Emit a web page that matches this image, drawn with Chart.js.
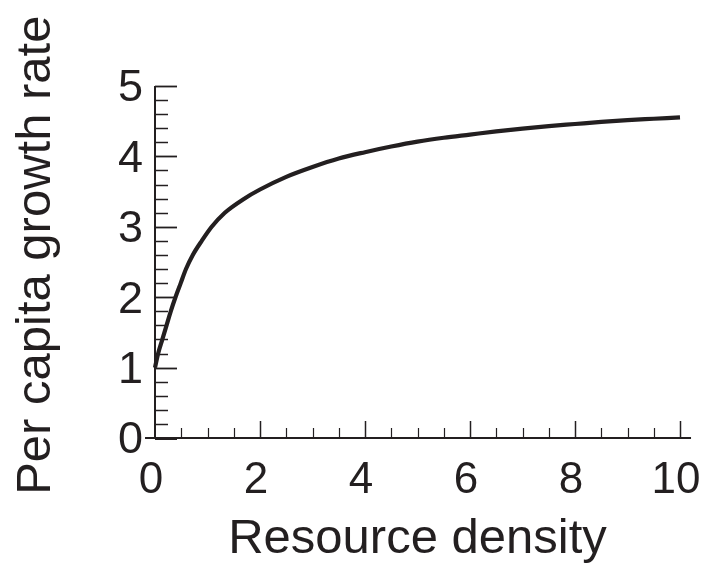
<!DOCTYPE html>
<html>
<head>
<meta charset="utf-8">
<script src="https://cdn.jsdelivr.net/npm/chart.js@4"></script>
<style>
  html, body { margin: 0; padding: 0; background: #fff; }
  #wrap { width: 702px; height: 574px; }
</style>
</head>
<body>
<div id="wrap"><canvas id="chart" width="702" height="574"></canvas></div>
<script>
// Values
const resourceDensity = [0, 0.06, 0.14, 0.22, 0.3, 0.39, 0.49, 0.59, 0.72, 0.89, 1.08, 1.33, 1.7, 2.0, 2.5, 3.0, 3.5, 4.0, 4.5, 5.0, 5.5, 6.0, 6.5, 7.0, 7.5, 8.0, 8.5, 9.0, 9.5, 10.0];
const growthRate = [1.0, 1.2, 1.4, 1.6, 1.8, 2.0, 2.2, 2.4, 2.6, 2.8, 3.0, 3.2, 3.4, 3.53, 3.71, 3.85, 3.97, 4.06, 4.14, 4.21, 4.265, 4.31, 4.355, 4.395, 4.43, 4.46, 4.49, 4.515, 4.535, 4.555];

const xTicks = [0, 2, 4, 6, 8, 10];
const yTicks = [0, 1, 2, 3, 4, 5];
const xMinorStep = 0.5;
const yMinorStep = 0.2;

const INK = '#231f20';
const FONT = "'Liberation Sans', Arial, Helvetica, sans-serif";

// Axis lines and inward tick marks, placed with the chart's own scales
const innerAxes = {
    id: 'innerAxes',
    beforeDatasetsDraw(chart) {
        const ctx = chart.ctx;
        const xs = chart.scales.x;
        const ys = chart.scales.y;
        const x0 = xs.getPixelForValue(0);
        const y0 = ys.getPixelForValue(0);

        ctx.save();
        ctx.strokeStyle = INK;
        ctx.lineCap = 'butt';

        // x axis line (runs a little past both ends)
        ctx.lineWidth = 2;
        ctx.beginPath();
        ctx.moveTo(xs.getPixelForValue(-0.19), y0);
        ctx.lineTo(xs.getPixelForValue(10.21), y0);
        ctx.stroke();

        // y axis line
        ctx.beginPath();
        ctx.moveTo(x0, y0);
        ctx.lineTo(x0, ys.getPixelForValue(5));
        ctx.stroke();

        // x ticks pointing up
        const nx = Math.round(10 / xMinorStep);
        for (let i = 1; i <= nx; i++) {
            const v = i * xMinorStep;
            const major = xTicks.includes(v);
            const px = Math.round(xs.getPixelForValue(v)) + 0.5;
            ctx.lineWidth = major ? 1.5 : 1.2;
            ctx.beginPath();
            ctx.moveTo(px, y0);
            ctx.lineTo(px, y0 - (major ? 17 : 10));
            ctx.stroke();
        }

        // y ticks pointing right
        const ny = Math.round(5 / yMinorStep);
        for (let i = 0; i <= ny; i++) {
            const v = +(i * yMinorStep).toFixed(2);
            const major = yTicks.includes(v);
            const py = Math.round(ys.getPixelForValue(v)) + 0.5;
            ctx.lineWidth = v === 0 ? 3 : (major ? 1.8 : 1.5);
            ctx.beginPath();
            ctx.moveTo(x0, py);
            ctx.lineTo(x0 + (major ? 22 : 13), py);
            ctx.stroke();
        }
        ctx.restore();
    }
};

new Chart(document.getElementById('chart'), {
    type: 'line',
    data: {
        datasets: [{
            data: resourceDensity.map((x, i) => ({ x: x, y: growthRate[i] })),
            borderColor: INK,
            borderWidth: 4.2,
            pointRadius: 0,
            cubicInterpolationMode: 'monotone',
            fill: false,
            clip: false
        }]
    },
    options: {
        responsive: false,
        animation: false,
        layout: { padding: { top: 86, right: 22, left: 0, bottom: 0 } },
        plugins: {
            legend: { display: false },
            tooltip: { enabled: false }
        },
        scales: {
            x: {
                type: 'linear',
                min: 0,
                max: 10,
                afterBuildTicks: (scale) => { scale.ticks = xTicks.map(v => ({ value: v })); },
                afterFit: (scale) => {
                    scale.height = 136;
                    scale.paddingLeft = 0;
                    scale.paddingRight = 0;
                },
                grid: { display: false, drawTicks: false },
                border: { display: false },
                ticks: {
                    color: INK,
                    padding: 16,
                    maxRotation: 0,
                    labelOffset: -4,
                    font: { family: FONT, size: 44 }
                },
                title: {
                    display: true,
                    text: 'Resource density',
                    color: INK,
                    padding: { top: 0, bottom: 5 },
                    font: { family: FONT, size: 49 }
                }
            },
            y: {
                type: 'linear',
                min: 0,
                max: 5,
                afterBuildTicks: (scale) => { scale.ticks = yTicks.map(v => ({ value: v })); },
                afterFit: (scale) => {
                    scale.width = 155;
                    scale.paddingTop = 0;
                    scale.paddingBottom = 0;
                },
                grid: { display: false, drawTicks: false },
                border: { display: false },
                ticks: {
                    color: INK,
                    padding: 12,
                    labelOffset: 3,
                    font: { family: FONT, size: 45 }
                },
                title: {
                    display: true,
                    text: ' Per capita growth rate',
                    color: INK,
                    padding: { top: 7, bottom: 0 },
                    font: { family: FONT, size: 49 }
                }
            }
        }
    },
    plugins: [innerAxes]
});
</script>
</body>
</html>
